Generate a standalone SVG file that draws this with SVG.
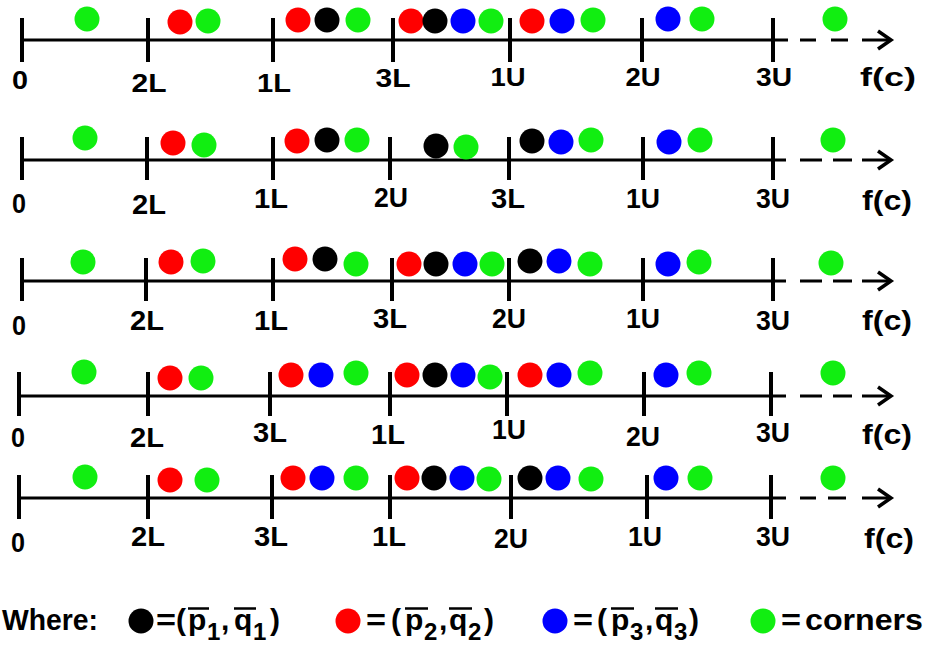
<svg xmlns="http://www.w3.org/2000/svg" width="926" height="648" viewBox="0 0 926 648">
<style>
.ax{stroke:#000;stroke-width:3;fill:none}
.tk{stroke:#000;stroke-width:4;fill:none}
.ar{stroke:#000;stroke-width:3.5;fill:none;stroke-linejoin:miter}
.k{fill:#000}.r{fill:#ff0000}.b{fill:#0000ff}.g{fill:#11ee11}
text{font-family:"Liberation Sans",Arial,sans-serif;font-weight:bold;fill:#000}
.l1{font-size:25px;text-anchor:middle}
.l2{font-size:27px;text-anchor:middle}
.lg{font-size:30px}
.sb{font-size:24px}
.ov{stroke:#000;stroke-width:2.5}
</style>

<g id="row1">
<path class="ax" d="M22 40H788M800 40H816M831 40H848M862 40H890"/>
<polyline class="ar" points="878,31 891,40 878,49"/>
<path class="tk" d="M22 18V62M148 18V62M273 18V62M393 18V62M510 18V62M642 18V62M773 18V62"/>
<circle class="g" cx="87" cy="19" r="12.5"/>
<circle class="r" cx="180" cy="22" r="12.5"/>
<circle class="g" cx="208" cy="21" r="12.5"/>
<circle class="r" cx="298" cy="20" r="12.5"/>
<circle class="k" cx="327" cy="20" r="12.5"/>
<circle class="g" cx="358" cy="20" r="12.5"/>
<circle class="r" cx="411" cy="21" r="12.5"/>
<circle class="k" cx="435" cy="21" r="12.5"/>
<circle class="b" cx="463" cy="21" r="12.5"/>
<circle class="g" cx="491" cy="21" r="12.5"/>
<circle class="r" cx="532" cy="21" r="12.5"/>
<circle class="b" cx="562" cy="21" r="12.5"/>
<circle class="g" cx="593" cy="20" r="12.5"/>
<circle class="b" cx="668" cy="19" r="12.5"/>
<circle class="g" cx="702" cy="19" r="12.5"/>
<circle class="g" cx="835" cy="19" r="12.5"/>
<text class="l1" x="20" y="89" textLength="16" lengthAdjust="spacingAndGlyphs">0</text>
<text class="l1" x="149" y="92" textLength="35" lengthAdjust="spacingAndGlyphs">2L</text>
<text class="l1" x="274" y="92" textLength="34" lengthAdjust="spacingAndGlyphs">1L</text>
<text class="l1" x="393" y="87" textLength="35" lengthAdjust="spacingAndGlyphs">3L</text>
<text class="l1" x="508" y="86" textLength="35" lengthAdjust="spacingAndGlyphs">1U</text>
<text class="l1" x="643" y="86" textLength="35" lengthAdjust="spacingAndGlyphs">2U</text>
<text class="l1" x="774" y="86" textLength="36" lengthAdjust="spacingAndGlyphs">3U</text>
<text class="l1" x="888" y="86" textLength="56" lengthAdjust="spacingAndGlyphs">f(c)</text>
</g>

<g id="row2">
<path class="ax" d="M22 160H786M800 160H822M833 160H852M862 160H890"/>
<polyline class="ar" points="878,151 891,160 878,169"/>
<path class="tk" d="M22 137V180M147 137V180M273 137V180M390 137V180M509 137V180M643 137V180M773 137V180"/>
<circle class="g" cx="85" cy="138" r="12.5"/>
<circle class="r" cx="173" cy="143" r="12.5"/>
<circle class="g" cx="204" cy="145" r="12.5"/>
<circle class="r" cx="297" cy="141" r="12.5"/>
<circle class="k" cx="327" cy="140" r="12.5"/>
<circle class="g" cx="357" cy="140" r="12.5"/>
<circle class="k" cx="436" cy="146" r="12.5"/>
<circle class="g" cx="466" cy="147" r="12.5"/>
<circle class="k" cx="532" cy="141" r="12.5"/>
<circle class="b" cx="561" cy="142" r="12.5"/>
<circle class="g" cx="591" cy="140" r="12.5"/>
<circle class="b" cx="669" cy="142" r="12.5"/>
<circle class="g" cx="700" cy="140" r="12.5"/>
<circle class="g" cx="833" cy="140" r="12.5"/>
<text class="l2" x="19" y="213" textLength="14" lengthAdjust="spacingAndGlyphs">0</text>
<text class="l2" x="149" y="214" textLength="34" lengthAdjust="spacingAndGlyphs">2L</text>
<text class="l2" x="271" y="208" textLength="34" lengthAdjust="spacingAndGlyphs">1L</text>
<text class="l2" x="391" y="207" textLength="34" lengthAdjust="spacingAndGlyphs">2U</text>
<text class="l2" x="508" y="208" textLength="34" lengthAdjust="spacingAndGlyphs">3L</text>
<text class="l2" x="643" y="208" textLength="34" lengthAdjust="spacingAndGlyphs">1U</text>
<text class="l2" x="773" y="208" textLength="34" lengthAdjust="spacingAndGlyphs">3U</text>
<text class="l2" x="887" y="210" textLength="50" lengthAdjust="spacingAndGlyphs">f(c)</text>
</g>

<g id="row3">
<path class="ax" d="M22 281H786M800 281H822M833 281H852M862 281H890"/>
<polyline class="ar" points="878,272 891,281 878,290"/>
<path class="tk" d="M22 258V301M146 258V301M273 258V301M392 258V301M509 258V301M643 258V301M773 258V301"/>
<circle class="g" cx="83" cy="262" r="12.5"/>
<circle class="r" cx="171" cy="262" r="12.5"/>
<circle class="g" cx="203" cy="261" r="12.5"/>
<circle class="r" cx="295" cy="259" r="12.5"/>
<circle class="k" cx="325" cy="259" r="12.5"/>
<circle class="g" cx="356" cy="264" r="12.5"/>
<circle class="r" cx="409" cy="264" r="12.5"/>
<circle class="k" cx="436" cy="264" r="12.5"/>
<circle class="b" cx="465" cy="264" r="12.5"/>
<circle class="g" cx="492" cy="264" r="12.5"/>
<circle class="k" cx="530" cy="261" r="12.5"/>
<circle class="b" cx="559" cy="261" r="12.5"/>
<circle class="g" cx="590" cy="264" r="12.5"/>
<circle class="b" cx="668" cy="264" r="12.5"/>
<circle class="g" cx="699" cy="262" r="12.5"/>
<circle class="g" cx="831" cy="263" r="12.5"/>
<text class="l2" x="19" y="335" textLength="14" lengthAdjust="spacingAndGlyphs">0</text>
<text class="l2" x="147" y="330" textLength="34" lengthAdjust="spacingAndGlyphs">2L</text>
<text class="l2" x="271" y="330" textLength="34" lengthAdjust="spacingAndGlyphs">1L</text>
<text class="l2" x="390" y="328" textLength="34" lengthAdjust="spacingAndGlyphs">3L</text>
<text class="l2" x="509" y="328" textLength="34" lengthAdjust="spacingAndGlyphs">2U</text>
<text class="l2" x="643" y="328" textLength="34" lengthAdjust="spacingAndGlyphs">1U</text>
<text class="l2" x="773" y="330" textLength="34" lengthAdjust="spacingAndGlyphs">3U</text>
<text class="l2" x="887" y="330" textLength="50" lengthAdjust="spacingAndGlyphs">f(c)</text>
</g>

<g id="row4">
<path class="ax" d="M19 396H786M800 396H822M833 396H852M862 396H890"/>
<polyline class="ar" points="878,387 891,396 878,405"/>
<path class="tk" d="M19 372V416M148 372V416M270 372V416M390 372V416M507 372V416M644 372V416M771 372V416"/>
<circle class="g" cx="84" cy="372" r="12.5"/>
<circle class="r" cx="170" cy="378" r="12.5"/>
<circle class="g" cx="201" cy="378" r="12.5"/>
<circle class="r" cx="291" cy="375" r="12.5"/>
<circle class="b" cx="321" cy="375" r="12.5"/>
<circle class="g" cx="356" cy="373" r="12.5"/>
<circle class="r" cx="407" cy="375" r="12.5"/>
<circle class="k" cx="435" cy="375" r="12.5"/>
<circle class="b" cx="463" cy="375" r="12.5"/>
<circle class="g" cx="490" cy="377" r="12.5"/>
<circle class="r" cx="530" cy="375" r="12.5"/>
<circle class="b" cx="559" cy="375" r="12.5"/>
<circle class="g" cx="590" cy="373" r="12.5"/>
<circle class="b" cx="666" cy="375" r="12.5"/>
<circle class="g" cx="699" cy="373" r="12.5"/>
<circle class="g" cx="833" cy="373" r="12.5"/>
<text class="l2" x="18" y="447" textLength="14" lengthAdjust="spacingAndGlyphs">0</text>
<text class="l2" x="147" y="447" textLength="34" lengthAdjust="spacingAndGlyphs">2L</text>
<text class="l2" x="270" y="442" textLength="34" lengthAdjust="spacingAndGlyphs">3L</text>
<text class="l2" x="388" y="444" textLength="34" lengthAdjust="spacingAndGlyphs">1L</text>
<text class="l2" x="509" y="439" textLength="34" lengthAdjust="spacingAndGlyphs">1U</text>
<text class="l2" x="643" y="446" textLength="34" lengthAdjust="spacingAndGlyphs">2U</text>
<text class="l2" x="773" y="442" textLength="34" lengthAdjust="spacingAndGlyphs">3U</text>
<text class="l2" x="887" y="444" textLength="50" lengthAdjust="spacingAndGlyphs">f(c)</text>
</g>

<g id="row5">
<path class="ax" d="M19 498H786M800 498H816M828 498H846M862 498H890"/>
<polyline class="ar" points="878,489 891,498 878,507"/>
<path class="tk" d="M19 475V519M148 475V519M272 475V519M390 475V519M511 475V519M647 475V519M771 475V519"/>
<circle class="g" cx="85" cy="477" r="12.5"/>
<circle class="r" cx="170" cy="480" r="12.5"/>
<circle class="g" cx="207" cy="480" r="12.5"/>
<circle class="r" cx="293" cy="478" r="12.5"/>
<circle class="b" cx="322" cy="478" r="12.5"/>
<circle class="g" cx="356" cy="478" r="12.5"/>
<circle class="r" cx="407" cy="478" r="12.5"/>
<circle class="k" cx="434" cy="478" r="12.5"/>
<circle class="b" cx="462" cy="478" r="12.5"/>
<circle class="g" cx="489" cy="479" r="12.5"/>
<circle class="k" cx="530" cy="478" r="12.5"/>
<circle class="b" cx="558" cy="478" r="12.5"/>
<circle class="g" cx="591" cy="479" r="12.5"/>
<circle class="b" cx="666" cy="478" r="12.5"/>
<circle class="g" cx="700" cy="478" r="12.5"/>
<circle class="g" cx="833" cy="478" r="12.5"/>
<text class="l2" x="18" y="552" textLength="14" lengthAdjust="spacingAndGlyphs">0</text>
<text class="l2" x="148" y="546" textLength="34" lengthAdjust="spacingAndGlyphs">2L</text>
<text class="l2" x="271" y="546" textLength="34" lengthAdjust="spacingAndGlyphs">3L</text>
<text class="l2" x="389" y="546" textLength="34" lengthAdjust="spacingAndGlyphs">1L</text>
<text class="l2" x="511" y="548" textLength="34" lengthAdjust="spacingAndGlyphs">2U</text>
<text class="l2" x="645" y="546" textLength="34" lengthAdjust="spacingAndGlyphs">1U</text>
<text class="l2" x="773" y="546" textLength="34" lengthAdjust="spacingAndGlyphs">3U</text>
<text class="l2" x="889" y="548" textLength="50" lengthAdjust="spacingAndGlyphs">f(c)</text>
</g>

<g id="legend">
<text class="lg" x="2" y="630" textLength="96" lengthAdjust="spacingAndGlyphs">Where:</text>
<circle class="k" cx="141" cy="621" r="12.5"/>
<text class="lg" x="156" y="630" textLength="20" lengthAdjust="spacingAndGlyphs">=</text>
<text class="lg" x="176" y="630">(</text>
<text class="lg" x="188" y="630">p</text>
<text class="sb" x="207" y="640">1</text>
<text class="lg" x="221" y="630">,</text>
<text class="lg" x="234" y="630">q</text>
<text class="sb" x="253" y="640">1</text>
<text class="lg" x="270" y="630">)</text>
<path class="ov" d="M188 608.5H209M234 608.5H256"/>

<circle class="r" cx="348" cy="621" r="12.5"/>
<text class="lg" x="366" y="630" textLength="20" lengthAdjust="spacingAndGlyphs">=</text>
<text class="lg" x="391" y="630">(</text>
<text class="lg" x="405" y="630">p</text>
<text class="sb" x="424" y="640">2</text>
<text class="lg" x="439" y="630">,</text>
<text class="lg" x="449" y="630">q</text>
<text class="sb" x="468" y="640">2</text>
<text class="lg" x="484" y="630">)</text>
<path class="ov" d="M405 608.5H428M449 608.5H472"/>

<circle class="b" cx="555" cy="621" r="12.5"/>
<text class="lg" x="573" y="630" textLength="20" lengthAdjust="spacingAndGlyphs">=</text>
<text class="lg" x="597" y="630">(</text>
<text class="lg" x="611" y="630">p</text>
<text class="sb" x="630" y="640">3</text>
<text class="lg" x="645" y="630">,</text>
<text class="lg" x="655" y="630">q</text>
<text class="sb" x="674" y="640">3</text>
<text class="lg" x="689" y="630">)</text>
<path class="ov" d="M611 608.5H634M655 608.5H678"/>

<circle class="g" cx="763" cy="621" r="12.5"/>
<text class="lg" x="781" y="630" textLength="20" lengthAdjust="spacingAndGlyphs">=</text>
<text class="lg" x="805" y="630" textLength="118" lengthAdjust="spacingAndGlyphs">corners</text>
</g>
</svg>
